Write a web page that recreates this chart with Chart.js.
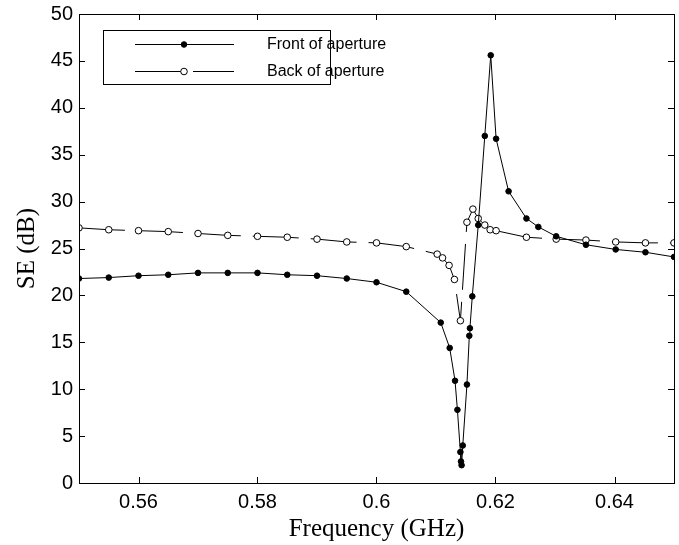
<!DOCTYPE html>
<html>
<head>
<meta charset="utf-8">
<script src="https://cdn.jsdelivr.net/npm/chart.js@4/dist/chart.umd.min.js"></script>
<style>
  html, body { margin: 0; padding: 0; background: #ffffff; }
  #wrap { width: 679px; height: 545px; }
</style>
</head>
<body>
<div id="wrap"><canvas id="c" width="679" height="545"></canvas></div>
<script>
// ---- data ----
const frontFreq = [0.55, 0.555, 0.56, 0.565, 0.57, 0.575, 0.58, 0.585, 0.59, 0.595, 0.60, 0.605,
  0.6108, 0.6123, 0.6132, 0.6136, 0.6141, 0.6142, 0.6143, 0.6145, 0.6152, 0.6156, 0.6157, 0.6161,
  0.6171, 0.6182, 0.6192, 0.6201, 0.6222, 0.6252, 0.6272, 0.6302, 0.6352, 0.6402, 0.6452, 0.65];
const frontSE = [21.8, 21.9, 22.1, 22.2, 22.4, 22.4, 22.4, 22.2, 22.1, 21.8, 21.4, 20.4,
  17.1, 14.4, 10.9, 7.8, 3.3, 2.3, 1.9, 4.0, 10.5, 15.7, 16.5, 19.9,
  27.5, 37.0, 45.6, 36.7, 31.1, 28.2, 27.3, 26.3, 25.4, 24.9, 24.6, 24.1];

const backFreq = [0.55, 0.555, 0.56, 0.565, 0.57, 0.575, 0.58, 0.585, 0.59, 0.595, 0.60, 0.605,
  0.6102, 0.6111, 0.6122, 0.6131, 0.6141, 0.6152, 0.6162, 0.6171, 0.6182, 0.6191, 0.6201,
  0.6252, 0.6302, 0.6352, 0.6402, 0.6452, 0.65];
const backSE = [27.2, 27.0, 26.9, 26.8, 26.6, 26.4, 26.3, 26.2, 26.0, 25.7, 25.6, 25.2,
  24.4, 24.0, 23.2, 21.7, 17.3, 27.8, 29.2, 28.2, 27.5, 27.0, 26.9,
  26.2, 26.0, 25.9, 25.7, 25.6, 25.6];

const seriesNames = ['Front of aperture', 'Back of aperture'];
const xTicks = [0.56, 0.58, 0.60, 0.62, 0.64];
const yTicks = [0, 5, 10, 15, 20, 25, 30, 35, 40, 45, 50];
const xTitle = 'Frequency (GHz)';
const yTitle = 'SE (dB)';

const toPts = (xs, ys) => xs.map((x, i) => ({ x: x, y: ys[i] }));

// frame, inward ticks on all four sides, and boxed legend
const matlabPlugin = {
  id: 'matlabFrame',
  afterDraw(chart) {
    const ctx = chart.ctx;
    const a = chart.chartArea;
    const xs = chart.scales.x, ys = chart.scales.y;
    const tl = 6;
    ctx.save();
    ctx.strokeStyle = '#000';
    ctx.lineWidth = 1;
    ctx.setLineDash([]);
    ctx.beginPath();
    xs.ticks.forEach(t => {
      const px = Math.round(xs.getPixelForValue(t.value)) + 0.5;
      ctx.moveTo(px, a.bottom); ctx.lineTo(px, a.bottom - tl);
      ctx.moveTo(px, a.top); ctx.lineTo(px, a.top + tl);
    });
    ys.ticks.forEach(t => {
      const py = Math.round(ys.getPixelForValue(t.value)) + 0.5;
      ctx.moveTo(a.left, py); ctx.lineTo(a.left + tl, py);
      ctx.moveTo(a.right, py); ctx.lineTo(a.right - tl, py);
    });
    ctx.stroke();
    ctx.strokeRect(Math.round(a.left) + 0.5, Math.round(a.top) + 0.5,
      Math.round(a.right - a.left), Math.round(a.bottom - a.top));

    // legend
    const bx = 103.5, by = 30.5, bw = 227, bh = 54;
    ctx.fillStyle = '#fff';
    ctx.fillRect(bx, by, bw, bh);
    ctx.strokeRect(bx, by, bw, bh);
    const rowsY = [44, 71];
    chart.data.datasets.forEach((ds, i) => {
      const y = rowsY[i] + 0.5;
      ctx.strokeStyle = '#000';
      ctx.lineWidth = 1;
      ctx.setLineDash(ds.borderDash || []);
      ctx.beginPath();
      ctx.moveTo(135, y); ctx.lineTo(234, y);
      ctx.stroke();
      ctx.setLineDash([]);
      ctx.beginPath();
      ctx.arc(184, y, ds.pointRadius, 0, Math.PI * 2);
      ctx.fillStyle = ds.pointBackgroundColor;
      ctx.fill();
      ctx.stroke();
      ctx.fillStyle = '#000';
      ctx.font = '16px "Liberation Sans", Arial, sans-serif';
      ctx.textAlign = 'left';
      ctx.textBaseline = 'middle';
      ctx.fillText(ds.label, 267, y);
    });
    ctx.restore();
  }
};

new Chart(document.getElementById('c'), {
  type: 'scatter',
  data: {
    datasets: [
      {
        label: seriesNames[0],
        data: toPts(frontFreq, frontSE),
        showLine: true,
        borderColor: '#000',
        borderWidth: 1,
        backgroundColor: '#000',
        pointBackgroundColor: '#000',
        pointBorderColor: '#000',
        pointRadius: 2.8,
        pointBorderWidth: 1,
        tension: 0
      },
      {
        label: seriesNames[1],
        data: toPts(backFreq, backSE),
        showLine: true,
        borderColor: '#000',
        borderWidth: 1,
        borderDash: [46, 12],
        backgroundColor: '#fff',
        pointBackgroundColor: '#fff',
        pointBorderColor: '#000',
        pointRadius: 3.3,
        pointBorderWidth: 1,
        tension: 0
      }
    ]
  },
  options: {
    responsive: false,
    animation: false,
    devicePixelRatio: 1,
    layout: { padding: { top: 14, right: 5, left: 0, bottom: 0 } },
    plugins: { legend: { display: false }, tooltip: { enabled: false } },
    scales: {
      x: {
        type: 'linear',
        min: 0.55, max: 0.65,
        afterBuildTicks: s => { s.ticks = xTicks.map(v => ({ value: v })); },
        afterFit: s => { s.height = 62; s.paddingLeft = 0; s.paddingRight = 0; },
        grid: { display: false, drawTicks: false },
        border: { display: false },
        ticks: {
          color: '#000',
          padding: 7,
          maxRotation: 0,
          autoSkip: false,
          font: { family: '"Liberation Sans", Arial, sans-serif', size: 20 },
          callback: v => String(Number(v.toFixed(2)))
        },
        title: {
          display: true, text: xTitle, color: '#000',
          font: { family: '"Liberation Serif", "Times New Roman", serif', size: 25 },
          padding: { top: 0, bottom: 1 }
        }
      },
      y: {
        min: 0, max: 50,
        afterBuildTicks: s => { s.ticks = yTicks.map(v => ({ value: v })); },
        afterFit: s => { s.width = 79; s.paddingTop = 0; s.paddingBottom = 0; },
        grid: { display: false, drawTicks: false },
        border: { display: false },
        ticks: {
          color: '#000',
          padding: 6,
          autoSkip: false,
          font: { family: '"Liberation Sans", Arial, sans-serif', size: 20 }
        },
        title: {
          display: true, text: yTitle, color: '#000',
          font: { family: '"Liberation Serif", "Times New Roman", serif', size: 25 },
          padding: { top: 12, bottom: 0 }
        }
      }
    }
  },
  plugins: [matlabPlugin]
});
</script>
</body>
</html>
